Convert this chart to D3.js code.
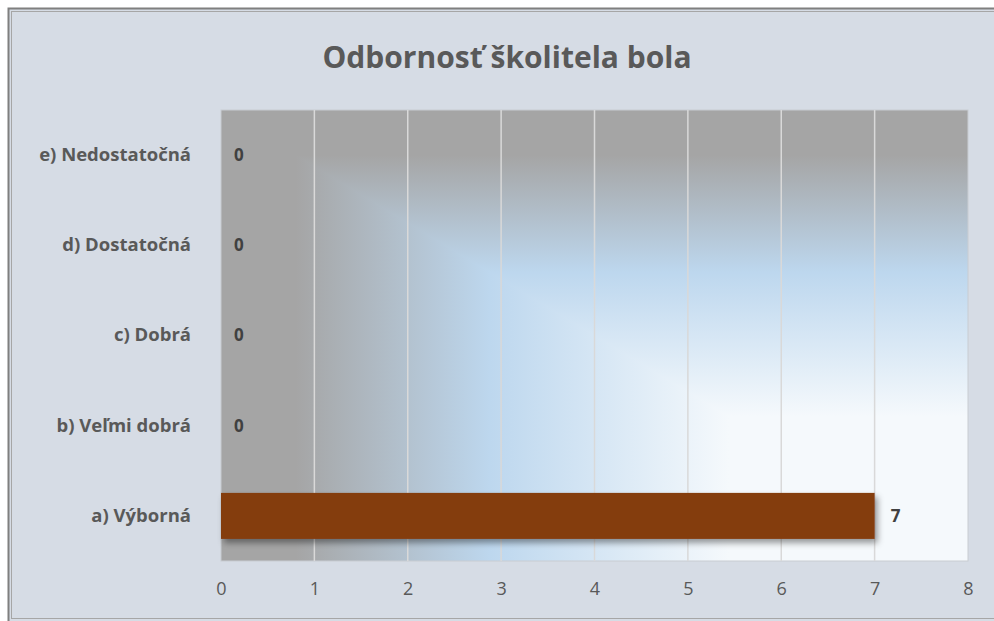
<!DOCTYPE html>
<html>
<head>
<meta charset="utf-8">
<script src="https://cdn.jsdelivr.net/npm/d3@7"></script>
<style>
  body { margin: 0; background: #ffffff; }
  text { font-family: "Open Sans", sans-serif; }
</style>
</head>
<body>
<div id="chart"></div>
<script>
// data
var categories = ["a) Výborná", "b) Veľmi dobrá", "c) Dobrá", "d) Dostatočná", "e) Nedostatočná"];
var values = [7, 0, 0, 0, 0];
var xTicks = [0, 1, 2, 3, 4, 5, 6, 7, 8];
var title = "Odbornosť školitela bola";

var W = 994, H = 621;
var plot = {left: 221, right: 968, top: 110, bottom: 561};
var pw = plot.right - plot.left, ph = plot.bottom - plot.top;

var svg = d3.select("#chart").append("svg")
    .attr("width", W)
    .attr("height", H);

// chart area with double border
svg.append("rect")
    .attr("x", 8.5).attr("y", 8.5)
    .attr("width", W).attr("height", H - 2)
    .attr("fill", "#d6dce5")
    .attr("stroke", "#7f7f7f")
    .attr("stroke-width", 2);
svg.append("rect")
    .attr("x", 11.5).attr("y", 11.5)
    .attr("width", W).attr("height", H - 14)
    .attr("fill", "none")
    .attr("stroke", "#a6a6a6")
    .attr("stroke-width", 1);

var x = d3.scaleLinear().domain([0, 8]).range([plot.left, plot.right]);
var y = d3.scaleBand().domain(categories).range([plot.bottom, plot.top])
    .paddingInner(0.49).paddingOuter(0.245);

// gradient fill of plot area (rectangular from top-left corner)
var defs = svg.append("defs");
var stops = [
  {o: 0, c: "#a5a5a5"},
  {o: 0.1, c: "#a5a5a5"},
  {o: 0.36, c: "#bdd7ee"},
  {o: 0.68, c: "#f5f9fc"},
  {o: 1, c: "#f5f9fc"}
];
var gh = defs.append("linearGradient").attr("id", "gh")
    .attr("x1", 0).attr("y1", 0).attr("x2", 1).attr("y2", 0);
gh.selectAll("stop").data(stops).enter().append("stop")
    .attr("offset", function(d) { return d.o; })
    .attr("stop-color", function(d) { return d.c; });
var gv = defs.append("linearGradient").attr("id", "gv")
    .attr("x1", 0).attr("y1", 0).attr("x2", 0).attr("y2", 1);
gv.selectAll("stop").data(stops).enter().append("stop")
    .attr("offset", function(d) { return d.o; })
    .attr("stop-color", function(d) { return d.c; });

var filt = defs.append("filter").attr("id", "shadow")
    .attr("x", "-5%").attr("y", "-30%").attr("width", "112%").attr("height", "180%");
filt.append("feDropShadow")
    .attr("dx", 3).attr("dy", 4).attr("stdDeviation", 3)
    .attr("flood-color", "#000").attr("flood-opacity", 0.4);

var bg = svg.append("g").attr("transform", "translate(" + plot.left + "," + plot.top + ")");
// full rect with vertical gradient, lower-left triangle with horizontal one on top
bg.append("rect")
    .attr("width", pw).attr("height", ph)
    .attr("fill", "url(#gv)");
bg.append("path")
    .attr("d", "M0,0L" + pw + "," + ph + "L0," + ph + "Z")
    .attr("fill", "url(#gh)");
bg.append("rect")
    .attr("width", pw).attr("height", ph)
    .attr("fill", "none")
    .attr("stroke", "#c8ccd2").attr("stroke-width", 1);

// gridlines
svg.append("g").selectAll("line")
    .data(xTicks.slice(1, -1))
    .enter().append("line")
    .attr("x1", function(d) { return x(d); })
    .attr("x2", function(d) { return x(d); })
    .attr("y1", plot.top)
    .attr("y2", plot.bottom)
    .attr("stroke", "#d9d9d9")
    .attr("stroke-width", 1.5);

// title
svg.append("text")
    .attr("x", 507)
    .attr("y", 68)
    .attr("text-anchor", "middle")
    .style("font-size", "30px")
    .style("font-weight", "bold")
    .style("fill", "#595959")
    .text(title);

// bars
var data = categories.map(function(c, i) { return {cat: c, val: values[i]}; });
svg.append("g").selectAll("rect")
    .data(data.filter(function(d) { return d.val > 0; }))
    .enter().append("rect")
    .attr("x", x(0))
    .attr("y", function(d) { return y(d.cat); })
    .attr("width", function(d) { return x(d.val) - x(0); })
    .attr("height", y.bandwidth())
    .attr("fill", "#843c0c")
    .attr("filter", "url(#shadow)");

// value labels
svg.append("g").selectAll("text")
    .data(data)
    .enter().append("text")
    .attr("x", function(d) { return x(d.val) + (d.val > 0 ? 16 : 13); })
    .attr("y", function(d) { return y(d.cat) + y.bandwidth() / 2; })
    .attr("dy", "0.35em")
    .style("font-size", "17px")
    .style("font-weight", "bold")
    .style("fill", "#404040")
    .text(function(d) { return d.val; });

// category axis
var yAxis = svg.append("g")
    .attr("transform", "translate(" + (plot.left - 30) + ",0)")
    .call(d3.axisLeft(y).tickSize(0).tickPadding(0));
yAxis.select(".domain").remove();
yAxis.selectAll("text")
    .style("font-family", "'Open Sans', sans-serif")
    .style("font-size", "18.5px")
    .style("font-weight", "bold")
    .style("fill", "#595959");

// value axis
var xAxis = svg.append("g")
    .attr("transform", "translate(0," + (plot.bottom + 21) + ")")
    .call(d3.axisBottom(x).tickValues(xTicks).tickSize(0).tickPadding(0).tickFormat(d3.format("d")));
xAxis.select(".domain").remove();
xAxis.selectAll("text")
    .style("font-family", "'Open Sans', sans-serif")
    .style("font-size", "18px")
    .style("fill", "#595959");
</script>
</body>
</html>
